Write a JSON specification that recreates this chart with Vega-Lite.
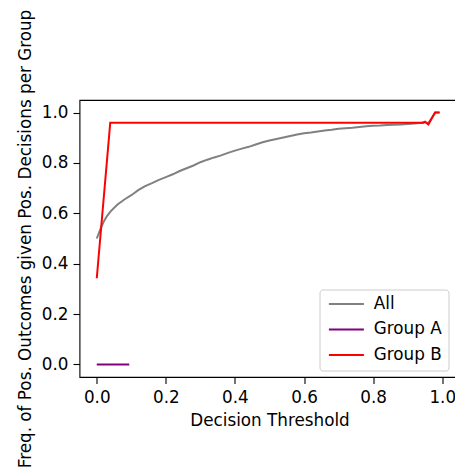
{
  "$schema": "https://vega.github.io/schema/vega-lite/v6.json",
  "autosize": {"type": "none"},
  "padding": {"left": 79.5, "top": 100, "right": 0, "bottom": 92},
  "width": 380,
  "height": 277,
  "background": "white",
  "config": {
    "font": "DejaVu Sans",
    "view": {"stroke": "black", "strokeWidth": 1.1},
    "axis": {
      "domain": false,
      "grid": false,
      "tickColor": "black",
      "tickSize": 6.5,
      "tickWidth": 1.1,
      "labelFontSize": 16.8,
      "labelColor": "black",
      "titleFontSize": 16.8,
      "titleFontWeight": "normal",
      "titleColor": "black",
      "labelPadding": 5
    }
  },
  "data": {
    "values": [
      {"t": 0.00, "v": 0.50, "s": "All"},
      {"t": 0.01, "v": 0.535, "s": "All"},
      {"t": 0.02, "v": 0.567, "s": "All"},
      {"t": 0.03, "v": 0.59, "s": "All"},
      {"t": 0.04, "v": 0.608, "s": "All"},
      {"t": 0.06, "v": 0.635, "s": "All"},
      {"t": 0.08, "v": 0.655, "s": "All"},
      {"t": 0.10, "v": 0.672, "s": "All"},
      {"t": 0.12, "v": 0.692, "s": "All"},
      {"t": 0.14, "v": 0.708, "s": "All"},
      {"t": 0.16, "v": 0.72, "s": "All"},
      {"t": 0.18, "v": 0.733, "s": "All"},
      {"t": 0.20, "v": 0.744, "s": "All"},
      {"t": 0.22, "v": 0.755, "s": "All"},
      {"t": 0.24, "v": 0.768, "s": "All"},
      {"t": 0.26, "v": 0.779, "s": "All"},
      {"t": 0.28, "v": 0.79, "s": "All"},
      {"t": 0.30, "v": 0.803, "s": "All"},
      {"t": 0.32, "v": 0.813, "s": "All"},
      {"t": 0.34, "v": 0.822, "s": "All"},
      {"t": 0.36, "v": 0.83, "s": "All"},
      {"t": 0.38, "v": 0.84, "s": "All"},
      {"t": 0.40, "v": 0.849, "s": "All"},
      {"t": 0.42, "v": 0.857, "s": "All"},
      {"t": 0.44, "v": 0.864, "s": "All"},
      {"t": 0.46, "v": 0.873, "s": "All"},
      {"t": 0.48, "v": 0.882, "s": "All"},
      {"t": 0.50, "v": 0.889, "s": "All"},
      {"t": 0.52, "v": 0.895, "s": "All"},
      {"t": 0.54, "v": 0.901, "s": "All"},
      {"t": 0.56, "v": 0.907, "s": "All"},
      {"t": 0.58, "v": 0.913, "s": "All"},
      {"t": 0.60, "v": 0.918, "s": "All"},
      {"t": 0.62, "v": 0.921, "s": "All"},
      {"t": 0.64, "v": 0.925, "s": "All"},
      {"t": 0.66, "v": 0.929, "s": "All"},
      {"t": 0.68, "v": 0.932, "s": "All"},
      {"t": 0.70, "v": 0.936, "s": "All"},
      {"t": 0.72, "v": 0.938, "s": "All"},
      {"t": 0.74, "v": 0.94, "s": "All"},
      {"t": 0.76, "v": 0.943, "s": "All"},
      {"t": 0.78, "v": 0.946, "s": "All"},
      {"t": 0.80, "v": 0.948, "s": "All"},
      {"t": 0.82, "v": 0.949, "s": "All"},
      {"t": 0.84, "v": 0.951, "s": "All"},
      {"t": 0.86, "v": 0.952, "s": "All"},
      {"t": 0.88, "v": 0.953, "s": "All"},
      {"t": 0.90, "v": 0.955, "s": "All"},
      {"t": 0.92, "v": 0.957, "s": "All"},
      {"t": 0.94, "v": 0.96, "s": "All"},
      {"t": 0.95, "v": 0.962, "s": "All"},
      {"t": 0.96, "v": 0.958, "s": "All"},
      {"t": 0.98, "v": 1.0, "s": "All"},
      {"t": 0.99, "v": 1.0, "s": "All"},
      {"t": 0.00, "v": 0.0, "s": "Group A"},
      {"t": 0.094, "v": 0.0, "s": "Group A"},
      {"t": 0.00, "v": 0.342, "s": "Group B"},
      {"t": 0.039, "v": 0.96, "s": "Group B"},
      {"t": 0.945, "v": 0.96, "s": "Group B"},
      {"t": 0.95, "v": 0.964, "s": "Group B"},
      {"t": 0.96, "v": 0.953, "s": "Group B"},
      {"t": 0.979, "v": 1.0, "s": "Group B"},
      {"t": 0.993, "v": 1.0, "s": "Group B"}
    ]
  },
  "mark": {"type": "line", "strokeWidth": 2},
  "encoding": {
    "x": {
      "field": "t",
      "type": "quantitative",
      "scale": {"domain": [-0.05, 1.05], "nice": false, "zero": false},
      "axis": {
        "values": [0, 0.2, 0.4, 0.6, 0.8, 1.0],
        "format": ".1f",
        "title": "Decision Threshold",
        "labelPadding": 5.5,
        "titleY": 48,
        "titleBaseline": "alphabetic"
      }
    },
    "y": {
      "field": "v",
      "type": "quantitative",
      "scale": {"domain": [-0.05, 1.05], "nice": false, "zero": false},
      "axis": {
        "values": [0, 0.2, 0.4, 0.6, 0.8, 1.0],
        "format": ".1f",
        "title": "Freq. of Pos. Outcomes given Pos. Decisions per Group",
        "titleX": -49,
        "titleY": 138.5,
        "titleAngle": -90,
        "titleAlign": "center",
        "titleBaseline": "alphabetic"
      }
    },
    "color": {
      "field": "s",
      "type": "nominal",
      "scale": {"domain": ["All", "Group A", "Group B"], "range": ["#808080", "#800080", "#ff0000"]},
      "legend": {
        "title": null,
        "orient": "none",
        "legendX": 240,
        "legendY": 189.5,
        "symbolType": "M-1,0H6",
        "symbolSize": 100,
        "symbolStrokeWidth": 2,
        "labelFontSize": 16.8,
        "labelColor": "black",
        "labelOffset": 31.5,
        "rowPadding": 7.5,
        "padding": 6,
        "fillColor": "white",
        "strokeColor": "#cccccc",
        "cornerRadius": 3
      }
    }
  }
}
